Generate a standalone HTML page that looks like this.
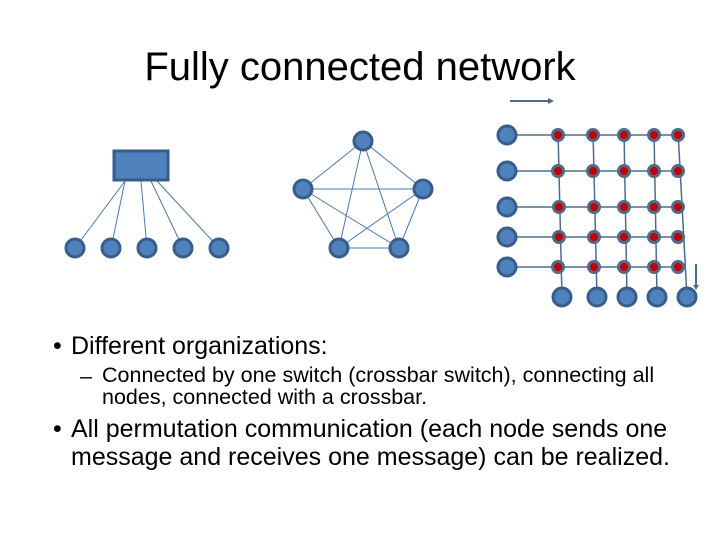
<!DOCTYPE html>
<html><head><style>
body{margin:0;width:720px;height:540px;background:#fff;font-family:"Liberation Sans",Calibri,sans-serif;overflow:hidden;position:relative}
.t{position:absolute;white-space:nowrap;color:#000}
</style></head><body>
<div class="t" style="left:0;width:720px;text-align:center;top:45px;font-size:40px">Fully connected network</div>
<svg width="720" height="540" style="position:absolute;left:0;top:0">
<g stroke="#4a7aab" stroke-width="1">
<line x1="125" y1="181" x2="75" y2="248"/><line x1="125" y1="181" x2="111" y2="248"/>
<line x1="141" y1="181" x2="147" y2="248"/><line x1="151" y1="181" x2="183" y2="248"/>
<line x1="157" y1="181" x2="219" y2="248"/>
<line x1="363" y1="141" x2="303" y2="189"/><line x1="363" y1="141" x2="423" y2="189"/>
<line x1="363" y1="141" x2="339" y2="248"/><line x1="363" y1="141" x2="399" y2="248"/>
<line x1="303" y1="189" x2="423" y2="189"/><line x1="303" y1="189" x2="339" y2="248"/>
<line x1="303" y1="189" x2="399" y2="248"/><line x1="423" y1="189" x2="339" y2="248"/>
<line x1="423" y1="189" x2="399" y2="248"/><line x1="339" y1="248" x2="399" y2="248"/>
</g>
<g stroke="#4f6b8a" stroke-width="1.5">
<line x1="507" y1="135" x2="678" y2="135"/><line x1="507" y1="171" x2="678" y2="171"/>
<line x1="507" y1="207" x2="678" y2="207"/><line x1="507" y1="237" x2="678" y2="237"/>
<line x1="507" y1="267" x2="678" y2="267"/>
<line x1="558" y1="131" x2="562" y2="297"/><line x1="593" y1="131" x2="597" y2="297"/>
<line x1="624" y1="131" x2="627" y2="297"/><line x1="654" y1="131" x2="657" y2="297"/>
<line x1="678" y1="131" x2="687" y2="297"/>
<line x1="510" y1="101" x2="550" y2="101" stroke-width="2"/>
<line x1="696" y1="264" x2="696" y2="286" stroke-width="2"/>
</g>
<polygon points="548,98 554,101 548,104" fill="#4f6b8a"/>
<polygon points="693,285 696,290 699,285" fill="#4f6b8a"/>
<rect x="114" y="151" width="54" height="29" fill="#4f81bd" stroke="#385d8a" stroke-width="3"/>
<g fill="#4f81bd" stroke="#385d8a" stroke-width="3">
<circle cx="75" cy="248" r="9"/><circle cx="111" cy="248" r="9"/><circle cx="147" cy="248" r="9"/><circle cx="183" cy="248" r="9"/><circle cx="219" cy="248" r="9"/>
<circle cx="363" cy="141" r="9"/><circle cx="303" cy="189" r="9"/><circle cx="423" cy="189" r="9"/><circle cx="339" cy="248" r="9"/><circle cx="399" cy="248" r="9"/>
<circle cx="507" cy="135" r="9"/><circle cx="507" cy="171" r="9"/><circle cx="507" cy="207" r="9"/><circle cx="507" cy="237" r="9"/><circle cx="507" cy="267" r="9"/>
<circle cx="562" cy="297" r="9"/><circle cx="597" cy="297" r="9"/><circle cx="627" cy="297" r="9"/><circle cx="657" cy="297" r="9"/><circle cx="687" cy="297" r="9"/>
</g>
<g fill="#c00000" stroke="#4f6b8a" stroke-width="3">
<circle cx="558" cy="135" r="5.5"/><circle cx="593" cy="135" r="5.5"/><circle cx="624" cy="135" r="5.5"/><circle cx="654" cy="135" r="5.5"/><circle cx="678" cy="135" r="5.5"/>
<circle cx="558" cy="171" r="5.5"/><circle cx="593" cy="171" r="5.5"/><circle cx="624" cy="171" r="5.5"/><circle cx="654" cy="171" r="5.5"/><circle cx="678" cy="171" r="5.5"/>
<circle cx="559" cy="207" r="5.5"/><circle cx="594" cy="207" r="5.5"/><circle cx="624" cy="207" r="5.5"/><circle cx="654" cy="207" r="5.5"/><circle cx="678" cy="207" r="5.5"/>
<circle cx="559" cy="237" r="5.5"/><circle cx="594" cy="237" r="5.5"/><circle cx="624" cy="237" r="5.5"/><circle cx="654" cy="237" r="5.5"/><circle cx="678" cy="237" r="5.5"/>
<circle cx="558" cy="267" r="5.5"/><circle cx="594" cy="267" r="5.5"/><circle cx="624" cy="267" r="5.5"/><circle cx="654" cy="267" r="5.5"/><circle cx="678" cy="267" r="5.5"/>
</g>
</svg>
<div class="t" style="left:53px;top:332px;font-size:25px">•</div>
<div class="t" style="left:71px;top:332px;font-size:25px">Different organizations:</div>
<div class="t" style="left:80px;top:364px;font-size:21.5px">–</div>
<div class="t" style="left:102px;top:364px;font-size:21.5px;line-height:22px">Connected by one switch (crossbar switch), connecting all<br>nodes, connected with a crossbar.</div>
<div class="t" style="left:53px;top:415px;font-size:25px">•</div>
<div class="t" style="left:71px;top:415px;font-size:25px;line-height:28px">All permutation communication (each node sends one<br>message and receives one message) can be realized.</div>
</body></html>
